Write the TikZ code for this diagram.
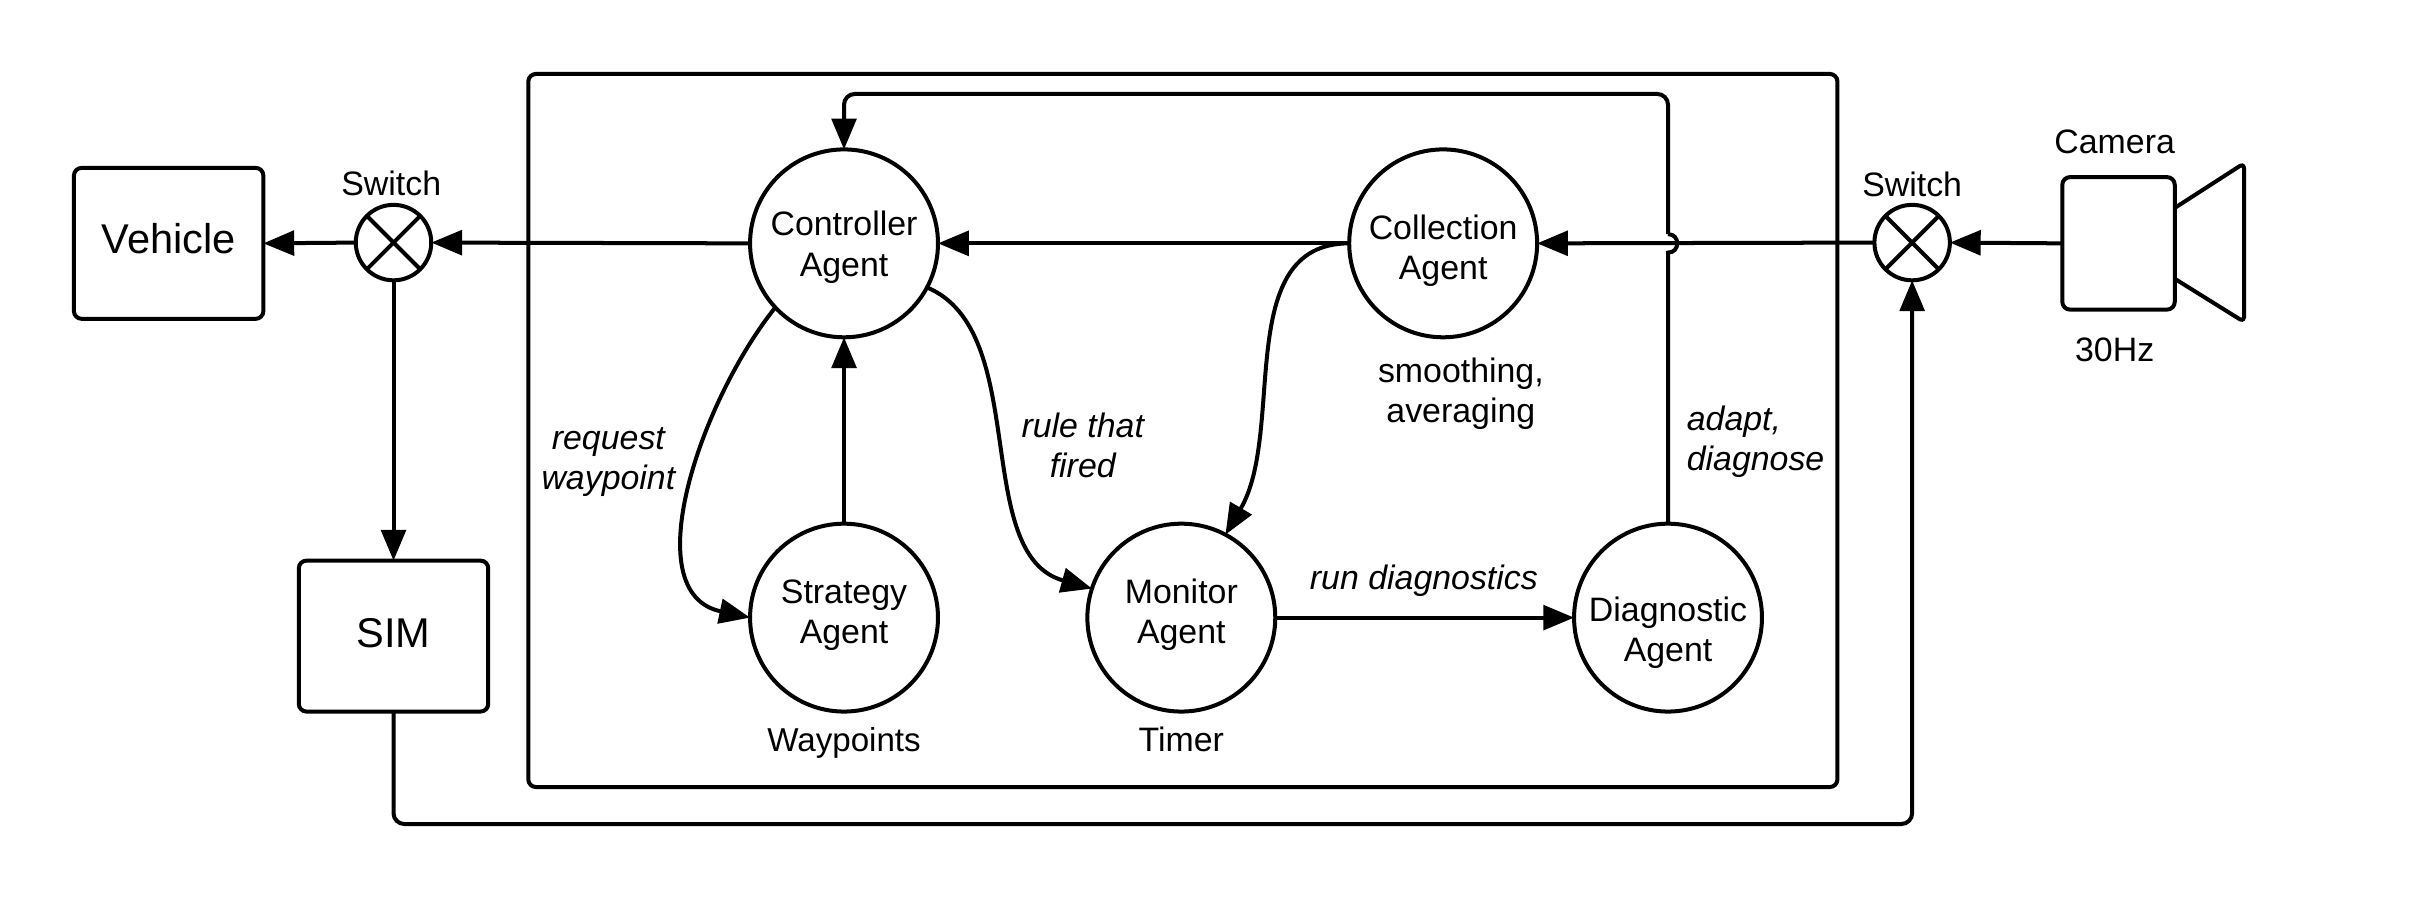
\documentclass[tikz,border=0pt]{standalone}
\usepackage{fontspec}
\setmainfont{Liberation Sans}
\usetikzlibrary{arrows.meta}
\newcommand\pushdown[1]{\rule{0pt}{#1pt}}
\newcommand\pushup[1]{\rule[-#1pt]{0pt}{#1pt}}
\tikzset{
  ln/.style={line width=2.6pt,draw=black},
  arr/.style={ln,-{Triangle[length=20pt,width=16pt,inset=0pt]}},
  agent/.style={ln,circle,minimum size=122pt,inner sep=0pt,outer sep=0pt,align=center,font=\fontsize{22}{26}\selectfont},
  sw/.style={ln,circle,minimum size=49pt,inner sep=0pt,outer sep=0pt},
  block/.style={ln,rectangle,rounded corners=5pt,inner sep=0pt,outer sep=0pt},
  lab/.style={inner sep=0pt,align=center,font=\fontsize{22}{26}\selectfont},
  ilab/.style={inner sep=0pt,align=center,font=\fontsize{22}{26}\selectfont\itshape}
}
\begin{document}
\begin{tikzpicture}[x=1pt,y=-1pt]
\useasboundingbox (0,0) rectangle (1568,584.4);
% container
\node[block,minimum width=850pt,minimum height=463pt] (outer) at (768,279.5) {};
% blocks
\node[block,minimum width=123pt,minimum height=98pt,font=\fontsize{27}{30}\selectfont] (veh) at (109.5,158) {\pushup{6}Vehicle};
\node[block,minimum width=123pt,minimum height=98pt,font=\fontsize{27}{30}\selectfont] (sim) at (255.5,413) {\pushup{4}SIM};
\node[block,minimum width=73pt,minimum height=86pt] (cam) at (1375.5,158) {};
% switches
\node[sw] (swl) at (255.5,157.5) {};
\node[sw] (swr) at (1241.5,157.5) {};
\foreach \s in {swl,swr}{
  \draw[ln] (\s.45) -- (\s.225);
  \draw[ln] (\s.135) -- (\s.315);
}
% agents
\node[agent] (ctl) at (548,158) {\pushdown{21}Controller\\Agent};
\node[agent] (col) at (937,158) {\pushdown{25}Collection\\Agent};
\node[agent] (str) at (548,401) {Strategy\\Agent\pushup{8}};
\node[agent] (mon) at (767,401) {Monitor\\Agent\pushup{8}};
\node[agent] (dia) at (1083,401) {\pushdown{35}Diagnostic\\Agent};
% camera cone
\coordinate (c1) at (1412,135);
\coordinate (c2) at (1457,106);
\coordinate (c3) at (1457,209);
\coordinate (c4) at (1412,181);
\draw[ln,rounded corners=3pt,line join=round] (c1) -- (c2) -- (c3) -- (c4);
% straight connectors
\draw[arr] (cam.west) -- (swr.east);
\draw[arr] (swr.west) -- (col.east);
\draw[arr] (col.west) -- (ctl.east);
\draw[arr] (ctl.west) -- (swl.east);
\draw[arr] (swl.west) -- (veh.east);
\draw[arr] (swl.south) -- (sim.north);
\draw[arr] (str.north) -- (ctl.south);
\draw[arr] (mon.east) -- (dia.west);
% curved connectors
\draw[arr] (ctl.223) .. controls (455,260) and (412,385) .. (str.west);
\draw[arr] (ctl.-28) .. controls (670,215) and (630,360) .. (mon.162);
\draw[arr] (col.west) .. controls (800,158) and (835,280) .. (mon.62);
% routed connectors
\coordinate (jb) at (1083,164);
\coordinate (jt) at (1083,152);
\coordinate (tr) at (1083,61);
\coordinate (tl) at (548,61);
\draw[ln] (dia.north) -- (jb) .. controls (1091,164) and (1091,152) .. (jt);
\draw[arr,rounded corners=7pt] (jt) -- (tr) -- (tl) -- (ctl.north);
\coordinate (bl) at (255.5,535);
\coordinate (br) at (1241.5,535);
\draw[arr,rounded corners=7pt] (sim.south) -- (bl) -- (br) -- (swr.south);
% labels
\node[lab] (t1) at (254,119) {Switch};
\node[lab] (t2) at (1241.5,120) {Switch};
\node[lab] (t3) at (1373,92) {Camera};
\node[lab] (t4) at (1373,227) {30Hz};
\node[lab,font=\fontsize{21.5}{26}\selectfont] (t5) at (548,482.5) {Waypoints};
\node[lab] (t6) at (767,480) {Timer};
\node[lab] (t7) at (948.5,255.5) {smoothing,\\averaging};
\node[ilab] (t8) at (395,300) {request\\waypoint};
\node[ilab] (t9) at (703,289) {rule that\\fired};
\node[ilab] (t10) at (924.5,377) {run diagnostics};
\node[ilab,align=left,anchor=west] (t11) at (1095,287) {adapt,\\diagnose};
\end{tikzpicture}
\end{document}
